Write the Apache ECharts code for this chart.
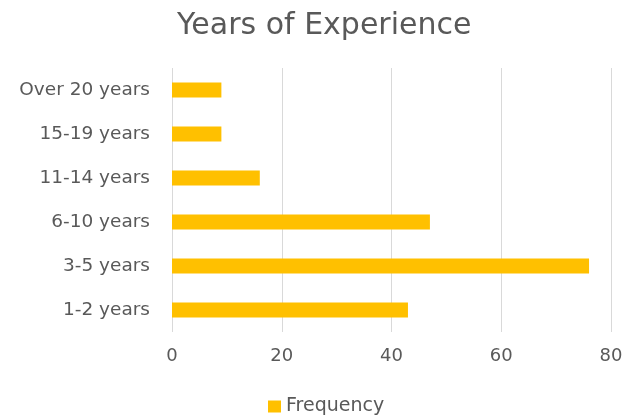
<!DOCTYPE html>
<html>
<head>
<meta charset="utf-8">
<script src="https://cdn.jsdelivr.net/npm/echarts@6/dist/echarts.min.js"></script>
<style>
  html, body { margin: 0; padding: 0; background: #ffffff; }
  #chart { width: 626px; height: 419px; }
</style>
</head>
<body>
<div id="chart"></div>
<script>
// Experience bands, listed bottom to top
const categories = ['1-2 years', '3-5 years', '6-10 years', '11-14 years', '15-19 years', 'Over 20 years'];
const frequency = [43, 76, 47, 16, 9, 9];
const xTicks = [0, 20, 40, 60, 80];

const chart = echarts.init(document.getElementById('chart'));
const labelFont = '"DejaVu Sans", Verdana, sans-serif';

chart.setOption({
  animation: false,
  backgroundColor: '#ffffff',
  title: {
    text: 'Years of Experience',
    left: 172,
    top: 6,
    textStyle: { color: '#595959', fontSize: 30, fontWeight: 'normal', fontFamily: labelFont }
  },
  legend: {
    bottom: -2,
    left: 263,
    icon: 'rect',
    itemWidth: 13,
    itemHeight: 12,
    itemGap: 6,
    textStyle: { color: '#595959', fontSize: 19, fontFamily: labelFont },
    data: ['Frequency']
  },
  grid: { left: 172, right: 15, top: 68, bottom: 87, containLabel: false },
  xAxis: {
    type: 'value',
    min: xTicks[0],
    max: xTicks[xTicks.length - 1],
    interval: xTicks[1] - xTicks[0],
    axisLine: { show: false },
    axisTick: { show: false },
    axisLabel: { color: '#595959', fontSize: 18, fontFamily: labelFont, margin: 15 },
    splitLine: { show: true, lineStyle: { color: '#d9d9d9', width: 1 } }
  },
  yAxis: {
    type: 'category',
    data: categories,
    axisLine: { show: false },
    axisTick: { show: false },
    axisLabel: { color: '#595959', fontSize: 18.5, fontFamily: labelFont, margin: 22 }
  },
  series: [{
    name: 'Frequency',
    type: 'bar',
    data: frequency,
    barWidth: 15,
    itemStyle: { color: '#FFC000' }
  }]
});
</script>
</body>
</html>
